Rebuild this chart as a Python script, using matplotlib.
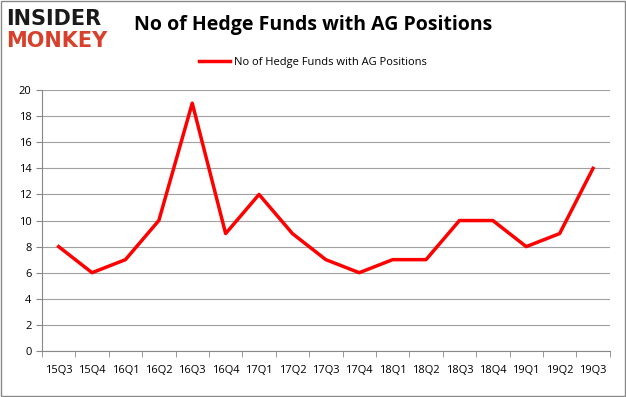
import matplotlib.pyplot as plt
import numpy as np

quarters = ['15Q3', '15Q4', '16Q1', '16Q2', '16Q3', '16Q4', '17Q1', '17Q2', '17Q3',
            '17Q4', '18Q1', '18Q2', '18Q3', '18Q4', '19Q1', '19Q2', '19Q3']
funds = [8, 6, 7, 10, 19, 9, 12, 9, 7, 6, 7, 7, 10, 10, 8, 9, 14]

plt.rcParams['font.family'] = ['Open Sans', 'DejaVu Sans']

fig = plt.figure(figsize=(6.26, 3.97), dpi=100)
ax = fig.add_axes([0.067, 0.116, 0.907, 0.657])

x = np.arange(len(quarters))
ax.plot(x, funds, color='#ff0000', lw=2.5, label='No of Hedge Funds with AG Positions')

ax.set_xlim(-0.5, len(quarters) - 0.5)
ax.set_ylim(0, 20)
ax.set_yticks(range(0, 21, 2))
ax.set_xticks(x)
ax.set_xticklabels(quarters, fontsize=8)
ax.tick_params(axis='x', length=0, pad=10)
ax.set_xticks(np.arange(-0.5, len(quarters)), minor=True)
ax.tick_params(axis='x', which='minor', length=4, color='#888888')
ax.tick_params(axis='y', labelsize=8, length=4, color='#888888')
ax.grid(axis='y', color='#a0a0a0', lw=0.8)
ax.set_axisbelow(True)
for s in ['top', 'right']:
    ax.spines[s].set_visible(False)
ax.spines['left'].set_color('#888888')
ax.spines['bottom'].set_color('#888888')

fig.text(0.5, 0.937, 'No of Hedge Funds with AG Positions', ha='center', va='center',
         fontsize=14, fontweight='bold')
ax.legend(loc='center', bbox_to_anchor=(0.477, 1.107), frameon=False, fontsize=8,
          handlelength=2.8, handletextpad=0.3)

# logo
fig.text(0.01, 0.952, 'INSIDER', fontsize=15, fontweight='heavy', color='#1a1a1a', va='center',
         family='DejaVu Sans')
fig.text(0.01, 0.897, 'MONKEY', fontsize=15, fontweight='heavy', color='#d9402b', va='center',
         family='DejaVu Sans')

fig.patches.append(plt.Rectangle((0.002, 0.003), 0.996, 0.994, transform=fig.transFigure,
                                 fill=False, edgecolor='#888888', lw=1))
fig.savefig('out.png')
